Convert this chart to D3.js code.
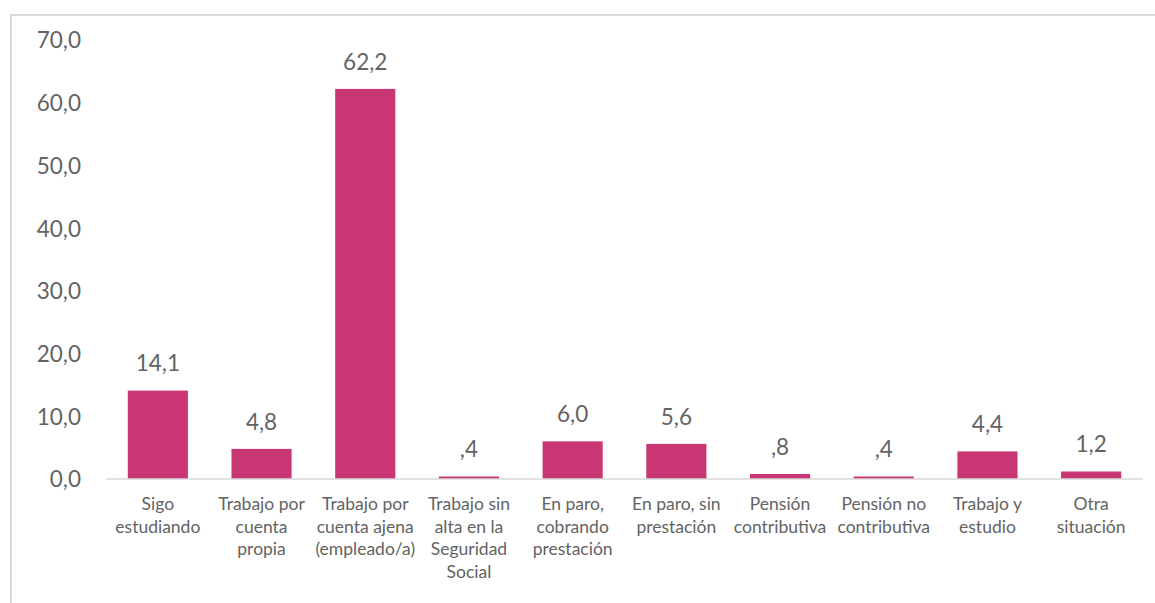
<!DOCTYPE html>
<html><head><meta charset="utf-8">
<script src="https://cdn.jsdelivr.net/npm/d3@7"></script>
<style>body{margin:0;background:#fff;} svg{display:block;}</style>
</head><body>
<svg id="c" width="1155" height="603"></svg>
<script>
const categories = [
  ["Sigo","estudiando"],
  ["Trabajo por","cuenta","propia"],
  ["Trabajo por","cuenta ajena","(empleado/a)"],
  ["Trabajo sin","alta en la","Seguridad","Social"],
  ["En paro,","cobrando","prestación"],
  ["En paro, sin","prestación"],
  ["Pensión","contributiva"],
  ["Pensión no","contributiva"],
  ["Trabajo y","estudio"],
  ["Otra","situación"]
];
const values = [14.1, 4.8, 62.2, 0.4, 6.0, 5.6, 0.8, 0.4, 4.4, 1.2];
const yTicks = [0, 10, 20, 30, 40, 50, 60, 70];

const svg = d3.select("#c");
const font = "Lato, 'Open Sans', sans-serif";
const grey = "#636363";

// frame
svg.append("rect").attr("x", 11).attr("y", 15).attr("width", 1160).attr("height", 600)
  .attr("fill", "none").attr("stroke", "#D9D9D9").attr("stroke-width", 2);

const x = d3.scaleBand().domain(d3.range(categories.length)).range([106, 1143]).paddingInner(0.42).paddingOuter(0.21);
const y = d3.scaleLinear().domain([0, 70]).range([479, 40]);

const fmt = v => { let s = d3.format(".1f")(v).replace(".", ","); if (v < 1 && v > 0) s = s.replace(/^0/, ""); return s; };

// y axis labels
const ya = svg.append("g").attr("transform", "translate(81,0)")
  .call(d3.axisLeft(y).tickValues(yTicks).tickSize(0).tickPadding(0).tickFormat(d => d3.format(".1f")(d).replace(".", ",")));
ya.select(".domain").remove();
ya.selectAll("text").attr("font-family", font).attr("font-size", 22.5).attr("fill", grey).attr("dy", "0.35em");

// bars
svg.selectAll(".bar").data(values).join("rect")
  .attr("x", (d, i) => x(i)).attr("width", x.bandwidth())
  .attr("y", d => y(d)).attr("height", d => y(0) - y(d))
  .attr("fill", "#C83773");

// baseline
svg.append("line").attr("x1", 106).attr("x2", 1143).attr("y1", y(0)).attr("y2", y(0))
  .attr("stroke", "#D9D9D9").attr("stroke-width", 1.5);

// value labels
svg.selectAll(".vl").data(values).join("text")
  .attr("x", (d, i) => x(i) + x.bandwidth() / 2).attr("y", d => y(d) - 27)
  .attr("dy", "0.35em").attr("text-anchor", "middle")
  .attr("font-family", font).attr("font-size", 22.5).attr("fill", grey)
  .text(d => fmt(d));

// category labels
const cg = svg.selectAll(".cl").data(categories).join("text")
  .attr("text-anchor", "middle").attr("font-family", font).attr("font-size", 17.5).attr("fill", grey);
cg.selectAll("tspan").data((d, i) => d.map(t => ({t, i}))).join("tspan")
  .attr("x", d => x(d.i) + x.bandwidth() / 2)
  .attr("y", (d, j) => 504 + j * 22.5)
  .attr("dy", "0.35em")
  .text(d => d.t);
</script>
</body></html>
